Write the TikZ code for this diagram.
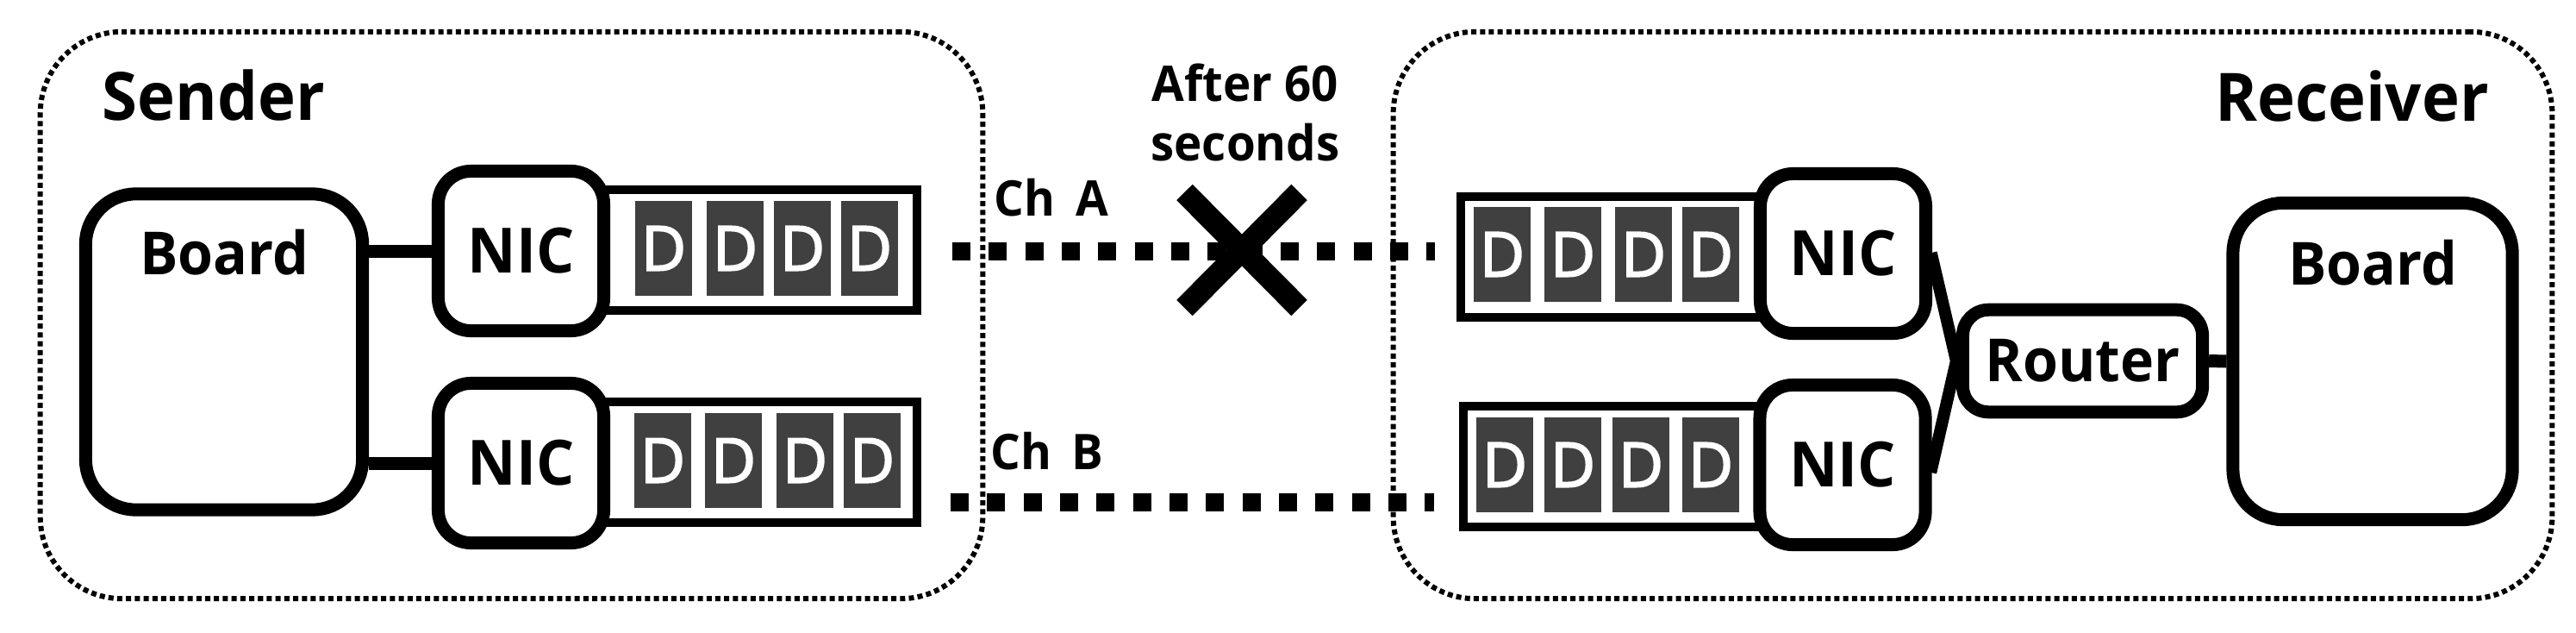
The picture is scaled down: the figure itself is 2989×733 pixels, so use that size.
\documentclass[tikz,border=0pt]{standalone}
\usepackage{fontspec}
\setmainfont{Open Sans}[BoldFeatures={FakeStretch=0.96}]
\newfontfamily\cellfont{Open Sans}[FakeBold=2.5]
\usetikzlibrary{shapes}
\definecolor{cellgray}{HTML}{404040}
\tikzset{
    groupbox/.style={draw, line width=0.06cm, dash pattern=on 0.06cm off 0.042cm, rounded corners=0.95cm, inner sep=0},
    boardbox/.style={draw, fill=white, line width=0.15cm, rounded corners=0.58cm, inner sep=0, minimum width=3.21cm, minimum height=3.66cm},
    nicbox/.style={draw, fill=white, line width=0.15cm, rounded corners=0.38cm, inner sep=0, minimum width=1.92cm, minimum height=1.85cm, font=\fontsize{20.6}{24}\selectfont\bfseries},
    routerbox/.style={draw, fill=white, line width=0.15cm, rounded corners=0.3cm, inner sep=0, minimum width=2.78cm, minimum height=1.185cm, font=\fontsize{19.6}{24}\selectfont\bfseries},
    bufbox/.style={draw, line width=0.105cm, inner sep=0, minimum width=3.64cm, minimum height=1.4cm},
    cellbox/.style={fill=cellgray, text=white, inner sep=0, minimum width=0.655cm, minimum height=1.09cm, font=\fontsize{20.4}{24}\cellfont},
    wire/.style={line width=0.15cm},
    slantwire/.style={line width=0.14cm, shorten <=-0.06cm, shorten >=-0.06cm},
    channel/.style={line width=0.21cm, dash pattern=on 0.211cm off 0.212cm},
    boldtext/.style={inner sep=0, anchor=base, font=\fontsize{19.6}{24}\selectfont\bfseries},
    bigtext/.style={inner sep=0, anchor=base, font=\fontsize{22}{26}\selectfont\bfseries},
    smalltext/.style={inner sep=0, anchor=base, font=\fontsize{16.2}{19.35}\selectfont\bfseries}
}
\begin{document}
\begin{tikzpicture}[x=0.01cm, y=-0.01cm]
    \useasboundingbox (0,0) rectangle (2989,733);
    % Groups
    \node[groupbox, minimum width=10.93cm, minimum height=6.57cm] (sender) at (593.5,365.5) {};
    \node[groupbox, minimum width=13.44cm, minimum height=6.57cm] (receiver) at (2289,365.5) {};
    \node[bigtext] (sendertxt) at (248,139) {Sender};
    \node[bigtext] (receivertxt) at (2729,140) {Receiver};
    % Buffers
    \node[bufbox] (bufA) at (882,290) {};
    \node[bufbox] (bufB) at (882,536) {};
    \node[bufbox] (bufC) at (1877,298) {};
    \node[bufbox] (bufD) at (1880,541) {};
    \foreach \x in {770, 853, 931, 1009}
        \node[cellbox] (cellA\x) at (\x,288) {D};
    \foreach \x in {769, 851, 934, 1012}
        \node[cellbox] (cellB\x) at (\x,534) {D};
    \foreach \x in {1743, 1825, 1907, 1985}
        \node[cellbox] (cellC\x) at (\x,295) {D};
    \foreach \x in {1746, 1825, 1904, 1985}
        \node[cellbox] (cellD\x) at (\x,539) {D};
    % Sender side
    \node[boardbox] (boardA) at (260,408) {};
    \node[boldtext] (boardAtxt) at (260,318) {Board};
    \node[nicbox] (nicA) at (604.5,291) {NIC};
    \node[nicbox] (nicB) at (604.5,537) {NIC};
    \draw[wire] (nicA.west -| boardA.east) -- (nicA.west);
    \draw[wire] (nicB.west -| boardA.east) -- (nicB.west);
    % Receiver side
    \node[nicbox] (nicC) at (2138.5,294) {NIC};
    \node[nicbox] (nicD) at (2138,539) {NIC};
    \node[routerbox] (router) at (2416.5,418.5) {Router};
    \node[boardbox, minimum width=3.24cm, minimum height=3.67cm] (boardB) at (2753,419) {};
    \node[boldtext] (boardBtxt) at (2753,330) {Board};
    \draw[slantwire] ([yshift=-0.05cm]nicC.east) -- (router.west);
    \draw[slantwire] ([yshift=-0.03cm]nicD.east) -- (router.west);
    \draw[wire] (router.east) -- (boardB.west);
    % Channels
    \coordinate (chAstart) at (1105,291);
    \coordinate (chAend) at (1665,291);
    \coordinate (chBstart) at (1103,582);
    \coordinate (chBend) at (1664,582);
    \draw[channel] (chAstart) -- (chAend);
    \draw[channel] (chBstart) -- (chBend);
    \node[smalltext] (chAtxt) at (1220,250) {Ch\, A};
    \node[smalltext] (chBtxt) at (1215,544) {Ch\, B};
    % Lost channel
    \node[cross out, draw, line width=0.26cm, inner sep=0, minimum width=1.07cm, minimum height=1.08cm] (cut) at (1441,290) {};
    \node[smalltext, align=center] (cuttxt) at (1445,186) {After 60\\seconds};
\end{tikzpicture}
\end{document}
